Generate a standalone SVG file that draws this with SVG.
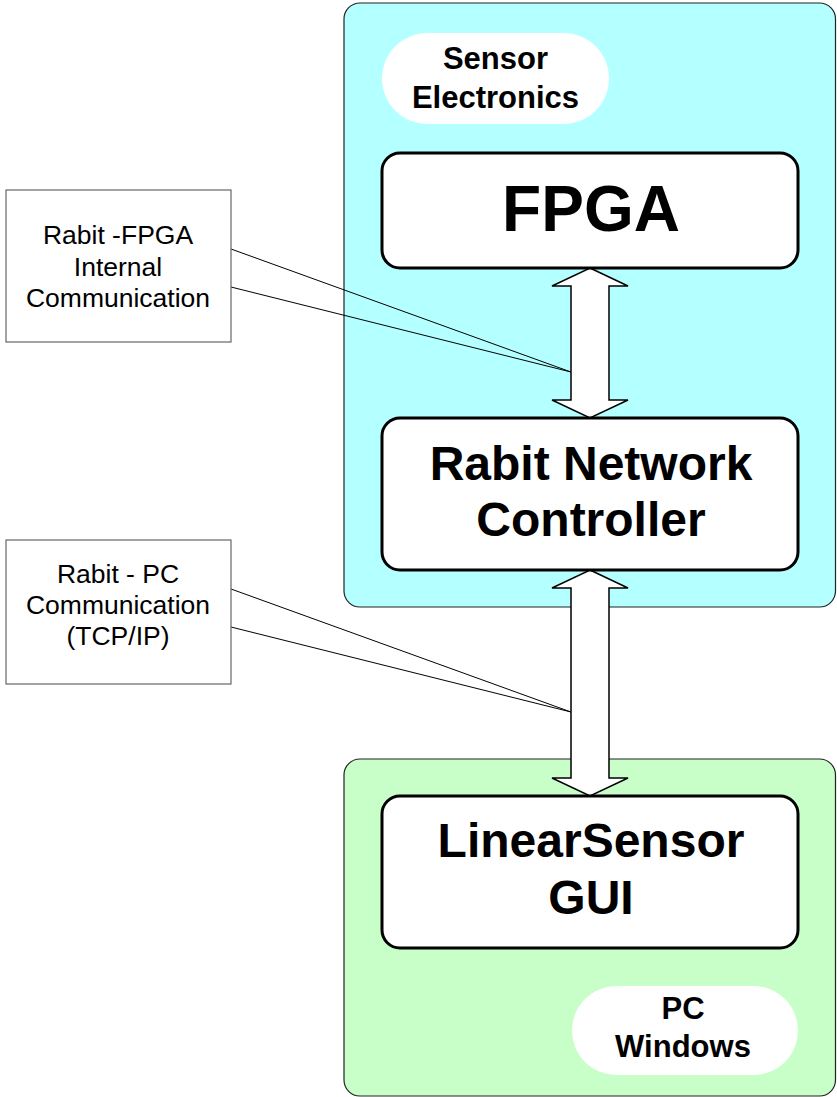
<svg xmlns="http://www.w3.org/2000/svg" width="837" height="1097" viewBox="0 0 837 1097">
<style>
.cont{stroke:#222;stroke-width:1.2}
.box{fill:#fff;stroke:#000;stroke-width:3}
.pill{fill:#fff;stroke:none}
.lbl{fill:#fff;stroke:#666;stroke-width:1.2}
.arrow{fill:#fff;stroke:#000;stroke-width:1.5;stroke-linejoin:miter}
.call{fill:none;stroke:#000;stroke-width:1}
.t{font-family:"Liberation Sans",Arial,sans-serif;text-anchor:middle;fill:#000}
.b{font-weight:bold}
.s{font-size:26.5px}
</style>
<rect width="837" height="1097" fill="#fff"/>
<g id="sensor-electronics">
<rect class="cont" x="344" y="3" width="491.5" height="604" rx="16" fill="#B4FFFF"/>
<rect class="pill" x="382" y="33" width="227" height="91" rx="45.5"/>
<text class="t b" x="495.5" y="69" font-size="31">Sensor</text>
<text class="t b" x="495.5" y="108" font-size="31">Electronics</text>
</g>
<g id="pc-windows">
<rect class="cont" x="344" y="759" width="491.5" height="337" rx="16" fill="#C8FFC8"/>
<rect class="pill" x="572" y="986" width="226" height="89" rx="44.5"/>
<text class="t b" x="683" y="1019" font-size="31">PC</text>
<text class="t b" x="683" y="1057" font-size="31">Windows</text>
</g>
<g id="connectors">
<polygon class="arrow" points="590,268 628,286 609,286 609,400 628,400 590,418 552,400 571,400 571,286 552,286"/>
<polygon class="arrow" points="590,570 628,588 609,588 609,778 628,778 590,796 552,778 571,778 571,588 552,588"/>
<polyline class="call" points="231,249 571,372 231,287"/>
<polyline class="call" points="231,589 571,712 231,627"/>
</g>
<g id="fpga">
<rect class="box" x="382" y="153" width="416" height="115" rx="18"/>
<text class="t b" x="591" y="231" font-size="64">FPGA</text>
</g>
<g id="rabit-network-controller">
<rect class="box" x="382" y="418" width="416" height="152" rx="18"/>
<text class="t b" x="591" y="480" font-size="48">Rabit Network</text>
<text class="t b" x="591" y="536" font-size="48">Controller</text>
</g>
<g id="linearsensor-gui">
<rect class="box" x="382" y="796" width="416" height="152" rx="18"/>
<text class="t b" x="591" y="857" font-size="48">LinearSensor</text>
<text class="t b" x="591" y="914" font-size="48">GUI</text>
</g>
<g id="label-rabit-fpga">
<rect class="lbl" x="6" y="190" width="225" height="152"/>
<text class="t s" x="118" y="244">Rabit -FPGA</text>
<text class="t s" x="118" y="276">Internal</text>
<text class="t s" x="118" y="307">Communication</text>
</g>
<g id="label-rabit-pc">
<rect class="lbl" x="6" y="540" width="225" height="144"/>
<text class="t s" x="118" y="583">Rabit - PC</text>
<text class="t s" x="118" y="614">Communication</text>
<text class="t s" x="118" y="645">(TCP/IP)</text>
</g>
</svg>
